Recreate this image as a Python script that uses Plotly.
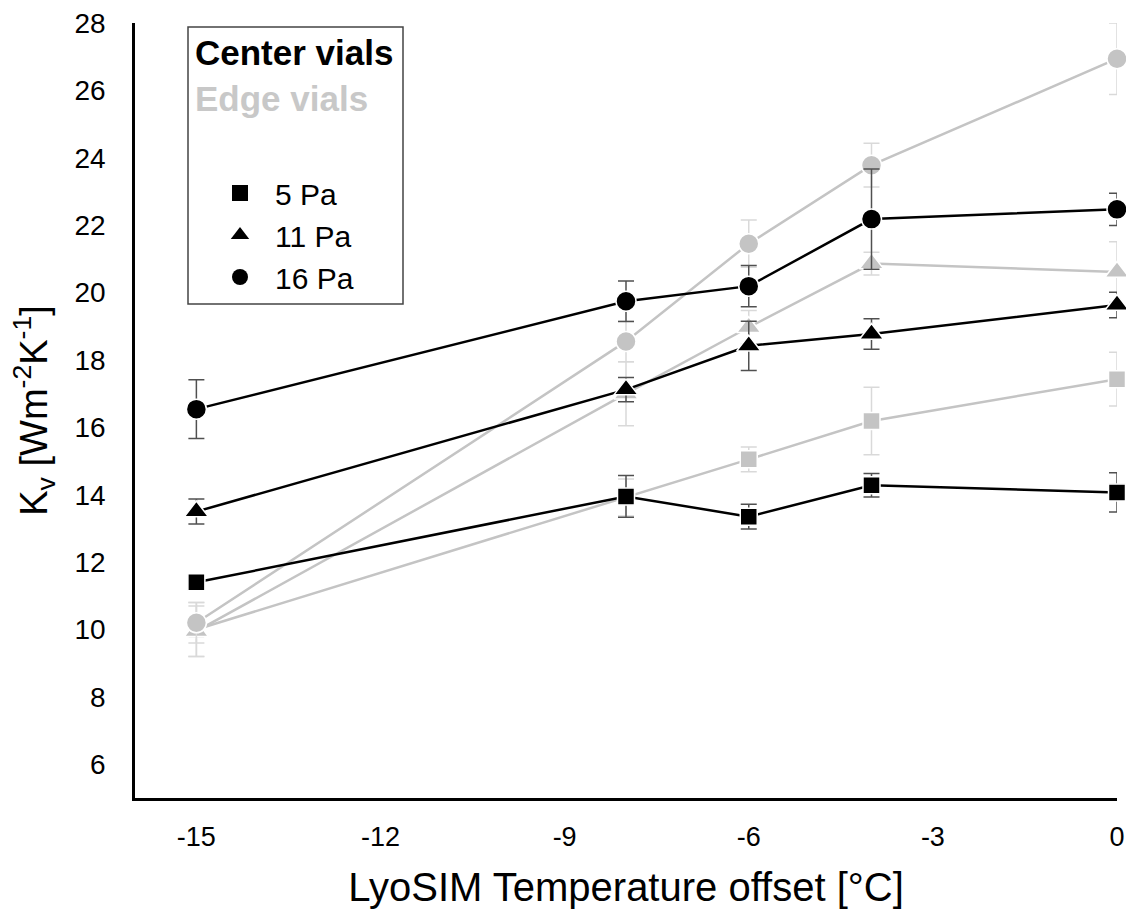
import plotly.graph_objects as go

# ---- data ----
offsets = [-15, -8, -6, -4, 0]

center_5pa = [11.40, 13.95, 13.35, 14.28, 14.07]
center_5pa_err = [0.20, 0.62, 0.37, 0.35, 0.58]
center_11pa = [13.50, 17.12, 18.42, 18.77, 19.63]
center_11pa_err = [0.37, 0.36, 0.73, 0.45, 0.38]
center_16pa = [16.54, 19.74, 20.19, 22.18, 22.47]
center_16pa_err = [0.87, 0.60, 0.61, 1.49, 0.48]

edge_5pa = [10.00, 13.92, 15.05, 16.19, 17.43]
edge_5pa_err = [0.80, 0.55, 0.37, 1.00, 0.80]
edge_11pa = [9.95, 17.00, 18.97, 20.86, 20.61]
edge_11pa_err = [0.75, 0.95, 0.50, 0.34, 0.90]
edge_16pa = [10.20, 18.55, 21.45, 23.78, 26.94]
edge_16pa_err = [0.60, 0.60, 0.70, 0.65, 1.06]

pressure_labels = ["5 Pa", "11 Pa", "16 Pa"]
group_labels = ["Center vials", "Edge vials"]
x_ticks = [-15, -12, -9, -6, -3, 0]
y_ticks = [6, 8, 10, 12, 14, 16, 18, 20, 22, 24, 26, 28]

# ---- styles ----
BLACK = "#000000"
GREY = "#c4c4c4"
symbols = ["square", "triangle-up", "circle"]
sizes = [17, 21, 20]
FONT = "Liberation Sans, Arial, sans-serif"

W, H = 1126, 913
ML, MR, MT, MB = 135, 9, 23, 115
PW, PH = W - ML - MR, H - MT - MB

def px_x(px):
    return (px - ML) / PW

def px_y(py):
    return 1 - (py - MT) / PH

fig = go.Figure()

def add_series(y, err, sym, size, color, err_color):
    fig.add_trace(go.Scatter(
        x=offsets, y=y, mode="lines+markers",
        line=dict(color=color, width=2.5),
        marker=dict(symbol=sym, size=size, color=color,
                    line=dict(color="white", width=1.5)),
        error_y=dict(type="data", array=err, visible=True,
                     color=err_color, thickness=1.5, width=8),
        showlegend=False, cliponaxis=False, hoverinfo="x+y",
    ))

edge = [(edge_5pa, edge_5pa_err), (edge_11pa, edge_11pa_err), (edge_16pa, edge_16pa_err)]
center = [(center_5pa, center_5pa_err), (center_11pa, center_11pa_err), (center_16pa, center_16pa_err)]

for (y, e), sym, sz in zip(edge, symbols, sizes):
    add_series(y, e, sym, sz, GREY, "#d9d9d9")
for (y, e), sym, sz in zip(center, symbols, sizes):
    add_series(y, e, sym, sz, BLACK, "#505050")

# legend entries (marker key)
for lab, sym in zip(pressure_labels, symbols):
    fig.add_trace(go.Scatter(
        x=[None], y=[None], mode="markers", name=lab,
        marker=dict(symbol=sym, size=18, color=BLACK),
        legendgroup=lab, showlegend=True,
    ))

# legend box and headers
fig.add_shape(type="rect", xref="paper", yref="paper",
              x0=px_x(188), x1=px_x(403), y0=px_y(304), y1=px_y(27),
              line=dict(color="#444444", width=1.5), fillcolor="rgba(0,0,0,0)")
fig.add_annotation(xref="paper", yref="paper", x=px_x(193), y=px_y(53),
                   xanchor="left", yanchor="middle", showarrow=False,
                   text="<b>" + group_labels[0] + "</b>",
                   font=dict(size=35, color=BLACK, family=FONT))
fig.add_annotation(xref="paper", yref="paper", x=px_x(193), y=px_y(98),
                   xanchor="left", yanchor="middle", showarrow=False,
                   text="<b>" + group_labels[1] + "</b>",
                   font=dict(size=35, color="#c8c8c8", family=FONT))

fig.update_layout(
    width=W, height=H,
    margin=dict(l=ML, r=MR, t=MT, b=MB),
    plot_bgcolor="white", paper_bgcolor="white",
    font=dict(family=FONT, color="black", size=28),
    legend=dict(
        x=px_x(205), y=px_y(235), xanchor="left", yanchor="middle",
        borderwidth=0, bgcolor="rgba(0,0,0,0)",
        font=dict(size=30, family=FONT),
        tracegroupgap=0, itemsizing="trace", itemwidth=60,
    ),
    xaxis=dict(
        range=[-16, 0], tickvals=x_ticks, ticktext=[str(v) for v in x_ticks],
        showline=True, linecolor="black", linewidth=2.5, showgrid=False,
        zeroline=False, ticks="", ticklabelstandoff=13, automargin=False,
        tickfont=dict(size=27),
        title=dict(text="LyoSIM Temperature offset [°C]", font=dict(size=40), standoff=22),
    ),
    yaxis=dict(
        range=[5, 28], tickvals=y_ticks,
        showline=True, linecolor="black", linewidth=2.5, showgrid=False,
        zeroline=False, ticks="", ticklabelstandoff=21, automargin=False,
        tickfont=dict(size=28),
        title=dict(text="K<sub>v</sub> [Wm<sup>-2</sup>K<sup>-1</sup>]", font=dict(size=38), standoff=16),
    ),
)

fig.write_html("out.html")
